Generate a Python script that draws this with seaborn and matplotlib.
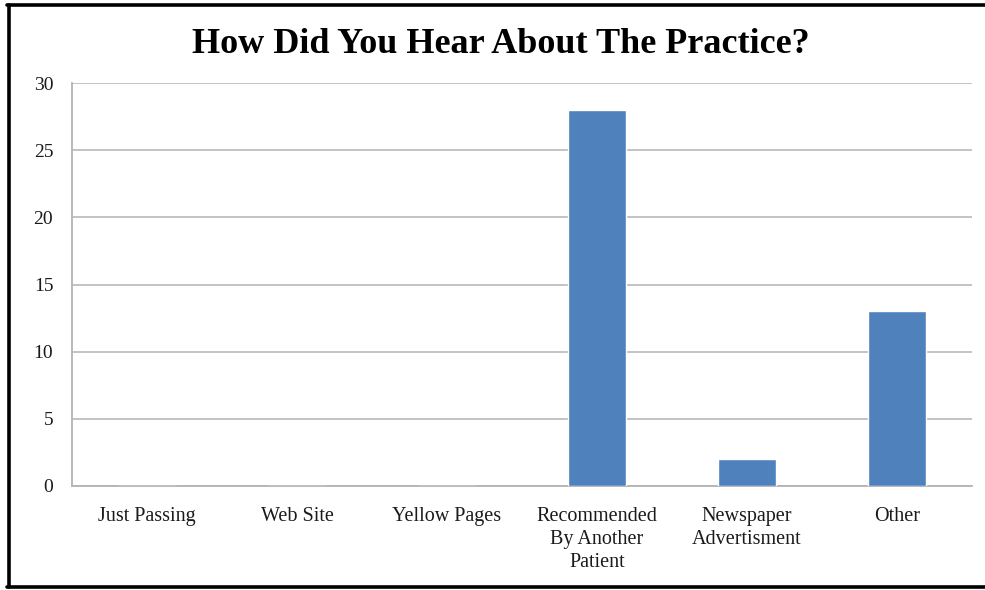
import matplotlib
matplotlib.use("Agg")
import matplotlib.pyplot as plt
import seaborn as sns
import pandas as pd
from matplotlib.lines import Line2D

categories = ["Just Passing", "Web Site", "Yellow Pages",
              "Recommended\nBy Another\nPatient", "Newspaper\nAdvertisment", "Other"]
counts = [0, 0, 0, 28, 2, 13]
y_ticks = [0, 5, 10, 15, 20, 25, 30]
title = "How Did You Hear About The Practice?"

sns.set_theme(style="white")
plt.rcParams["font.family"] = ["Liberation Serif", "DejaVu Serif"]

df = pd.DataFrame({"source": categories, "count": counts})

fig = plt.figure(figsize=(9.85, 5.9), dpi=100)
fig.patch.set_facecolor("white")
ax = fig.add_axes([72 / 985, 1 - 486 / 590, 900 / 985, 403 / 590])

sns.barplot(data=df, x="source", y="count", color="#4F81BD", saturation=1,
            width=0.39, ax=ax, zorder=3)

ax.set_ylim(0, 30)
ax.set_xlim(-0.5, len(categories) - 0.5)
ax.set_yticks(y_ticks)
ax.yaxis.grid(True, color="#B3B3B3", linewidth=1.1, zorder=0)
ax.set_axisbelow(True)
ax.set_xlabel("")
ax.set_ylabel("")
for side in ["top", "right"]:
    ax.spines[side].set_visible(False)
for side in ["left", "bottom"]:
    ax.spines[side].set_color("#B3B3B3")
    ax.spines[side].set_linewidth(1.3)
ax.tick_params(axis="both", length=0, colors="#1a1a1a")
ax.tick_params(axis="y", pad=13.5, labelsize=14)
ax.tick_params(axis="x", pad=15, labelsize=14.5)
for lbl in ax.get_xticklabels():
    lbl.set_linespacing(1.3)
    lbl.set_verticalalignment("top")

fig.text(0.508, 1 - 53 / 590, title, ha="center", va="baseline",
         fontsize=26, fontweight="bold", color="#000000")

# dark frame around the chart area
frame_kw = dict(color="#000000", linewidth=2.6, transform=fig.transFigure)
fig.add_artist(Line2D([8.5 / 985, 8.5 / 985], [1 - 4.5 / 590, 1 - 587 / 590], **frame_kw))
fig.add_artist(Line2D([7 / 985, 1.0], [1 - 4.5 / 590, 1 - 4.5 / 590], **frame_kw))
fig.add_artist(Line2D([7 / 985, 1.0], [1 - 587 / 590, 1 - 587 / 590], **frame_kw))

fig.savefig("out.png", dpi=100, facecolor="white")
